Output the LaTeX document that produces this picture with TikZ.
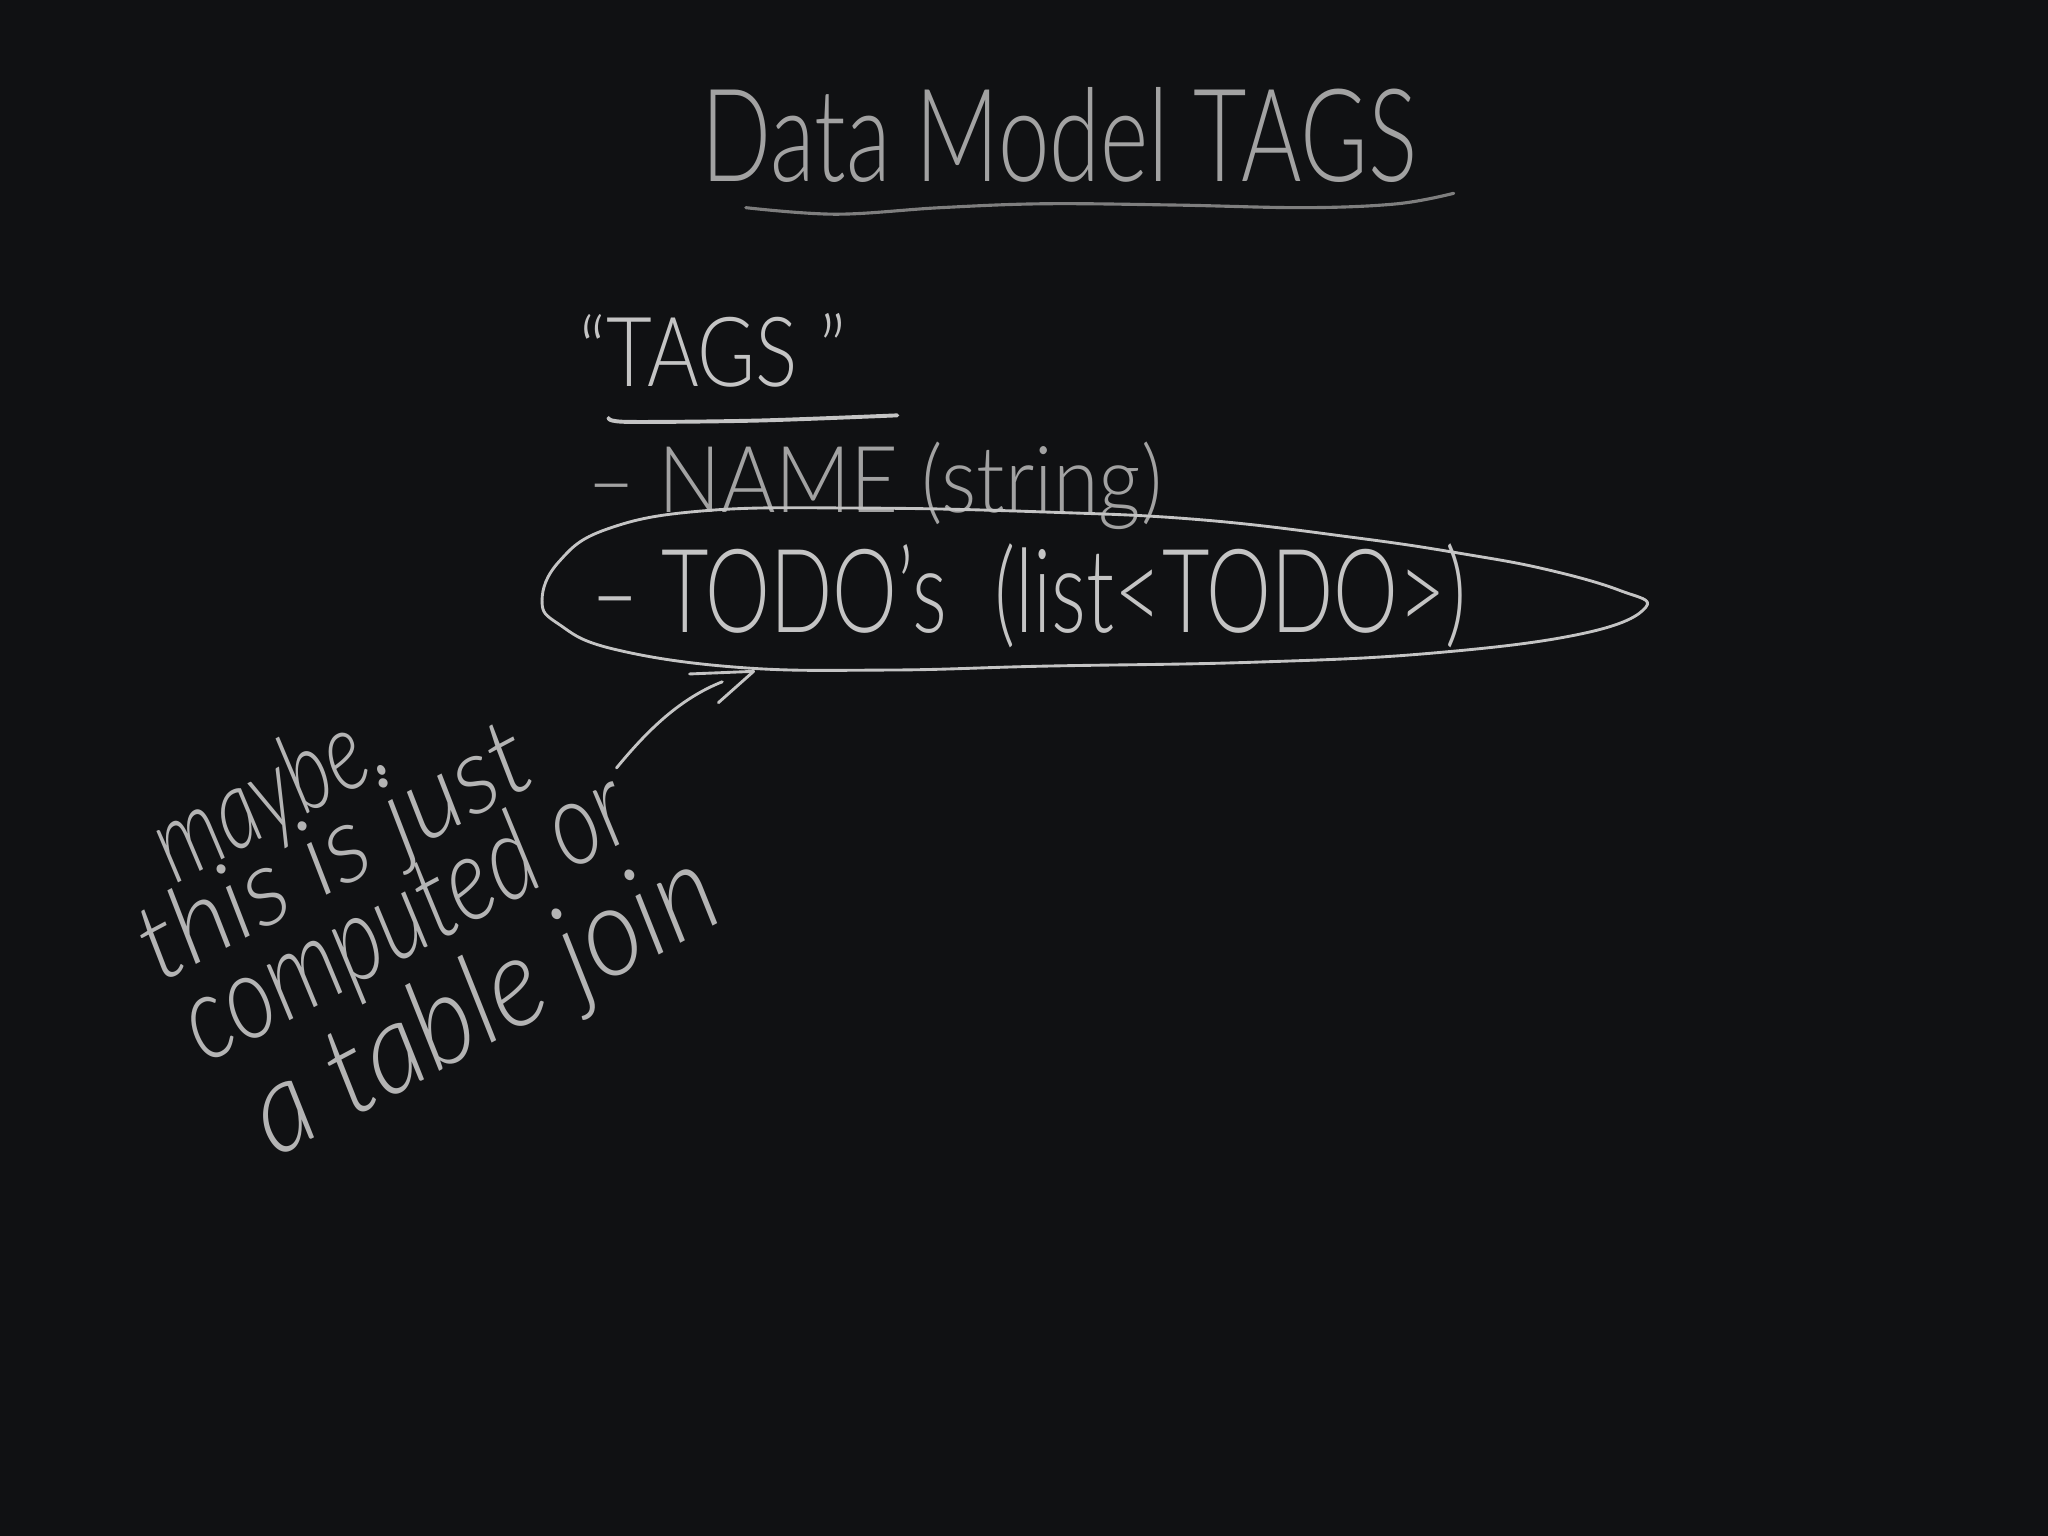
\documentclass[tikz,border=0pt]{standalone}
\usepackage{fontspec}
\usepackage{graphicx}
\setmainfont{Lato Light}
\newfontfamily\handit{Lato Light Italic}
\definecolor{board}{HTML}{101113}
\definecolor{chalk}{HTML}{C4C4C4}
\definecolor{chalkdim}{HTML}{A2A2A2}
\definecolor{chalknote}{HTML}{B4B4B4}
\tikzset{
  hand/.style={inner sep=0pt,outer sep=0pt,text=chalk},
  handdim/.style={hand,text=chalkdim},
  note/.style={hand,text=chalknote,rotate=28,font=\handit},
  stroke/.style={draw=chalk,line width=1.1pt,line cap=round,line join=round},
  dimstroke/.style={draw=chalkdim!75!board,line width=1.2pt,line cap=round,line join=round}
}
\newcommand{\fitbox}[3]{\resizebox{#1pt}{#2pt}{#3}}
\begin{document}
\begin{tikzpicture}[x=0.5pt,y=-0.5pt]
\fill[board] (0,0) rectangle (1568,1176);
\useasboundingbox (0,0) rectangle (1568,1176);
% title
\node[handdim] (title) at (811,103) {\fitbox{274}{36}{Data Model TAGS}};
\draw[dimstroke] plot[smooth,tension=0.6] coordinates {(571,159) (640,164) (720,159) (800,156) (900,157) (1000,159) (1070,156) (1113,148)};
% entity
\node[hand] (tags) at (546,268) {\fitbox{102}{28}{“TAGS ”}};
\draw[stroke,line width=1.5pt] plot[smooth,tension=0.5] coordinates {(466,320) (480,323) (580,322) (687,318)};
\node[handdim] (name) at (670,372) {\fitbox{220}{27}{– NAME (string)}};
\node[hand] (todos) at (788,456) {\fitbox{335}{34}{– TODO's\hspace{0.3em} (list<TODO>)}};
% oval
\draw[stroke] plot[smooth cycle,tension=0.7] coordinates {(415,460) (428,430) (465,405) (540,391) (660,389) (800,392) (920,398) (1040,412) (1120,424) (1184,436) (1240,452) (1260,465) (1212,485) (1097,500) (960,507) (800,510) (680,513) (566,511) (470,497) (428,478)};
\coordinate (ovaltip) at (577,514);
\coordinate (notetail) at (472,588);
\coordinate (barba) at (528,516);
\coordinate (barbb) at (550,538);
\draw[stroke] (notetail) .. controls (495,560) and (520,535) .. (553,522);
\draw[stroke] (barba) -- (ovaltip) -- (barbb);
% note
\node[note] (n1) at (207,612) {\fitbox{95}{31}{maybe.}};
\node[note] (n2) at (258,656) {\fitbox{165}{30}{this is just}};
\node[note] (n3) at (312,705) {\fitbox{188}{33}{computed or}};
\node[note] (n4) at (372,772) {\fitbox{196}{35}{a table join}};
\end{tikzpicture}
\end{document}
